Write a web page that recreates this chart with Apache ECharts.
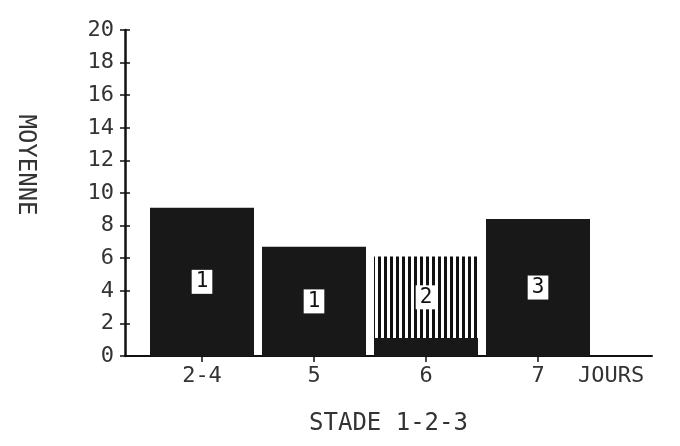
<!DOCTYPE html>
<html><head><meta charset="utf-8">
<script src="https://cdn.jsdelivr.net/npm/echarts@6/dist/echarts.min.js"></script>
<style>html,body{margin:0;padding:0;background:#fff}#c{width:680px;height:446px}</style>
</head><body><div id="c"></div>
<script>
// ---- data ----
const categories = ['2-4', '5', '6', '7'];
const darkValues = [9.1, 6.7, 1.1, 8.4];     // solid (dark) part of each bar
const stripedValues = [0, 0, 5.0, 0];        // vertically striped part (stacked on top)
const stageLabels = ['1', '1', '2', '3'];    // number printed inside each bar
const yMin = 0, yMax = 20, yStep = 2;
const xName = 'STADE 1-2-3';
const xUnit = 'JOURS';
const yName = 'MOYENNE';

const FONT = 'DejaVu Sans Mono';
const TXT = '#333';

// stripe pattern for the striped bar
const pc = document.createElement('canvas');
pc.width = 6; pc.height = 6;
const pctx = pc.getContext('2d');
pctx.fillStyle = '#fff'; pctx.fillRect(0, 0, 6, 6);
pctx.fillStyle = '#111'; pctx.fillRect(0, 0, 3, 6);

const labelStyle = {
  position: 'inside',
  formatter: p => stageLabels[p.dataIndex],
  color: '#111', fontFamily: FONT, fontSize: 21,
  backgroundColor: '#fff', padding: [2, 4, 1, 4]
};

const chart = echarts.init(document.getElementById('c'));
chart.setOption({
  backgroundColor: '#fff',
  animation: false,
  grid: [
    { left: 146, width: 448, top: 30, height: 326 },
    { left: 125, right: 28, top: 30, height: 326 }
  ],
  xAxis: [
    {
      type: 'category', gridIndex: 0, data: categories,
      axisLine: { show: false },
      axisTick: { show: true, alignWithLabel: true, length: 6, lineStyle: { color: '#111', width: 1.5 } },
      axisLabel: { color: TXT, fontFamily: FONT, fontSize: 22, margin: 9 },
      name: xUnit, nameLocation: 'end', nameGap: -16,
      nameTextStyle: { color: TXT, fontFamily: FONT, fontSize: 22, align: 'left', verticalAlign: 'top', padding: [9, 0, 0, 0] }
    },
    {
      type: 'value', gridIndex: 1, min: 0, max: 1,
      axisLine: { show: true, lineStyle: { color: '#111', width: 2 } },
      axisTick: { show: false }, axisLabel: { show: false }, splitLine: { show: false },
      name: xName, nameLocation: 'middle', nameGap: 56,
      nameTextStyle: { color: TXT, fontFamily: FONT, fontSize: 24 }
    }
  ],
  yAxis: [
    { type: 'value', gridIndex: 0, min: yMin, max: yMax, interval: yStep, show: false },
    {
      type: 'value', gridIndex: 1, position: 'left', min: yMin, max: yMax, interval: yStep,
      axisLine: { show: true, lineStyle: { color: '#111', width: 2.5 } },
      axisTick: { show: true, length: 5, lineStyle: { color: '#111', width: 1.5 } },
      axisLabel: { color: TXT, fontFamily: FONT, fontSize: 22, margin: 11 },
      splitLine: { show: false },
      name: yName, nameLocation: 'middle', nameRotate: -90, nameGap: 88,
      nameTextStyle: { color: TXT, fontFamily: FONT, fontSize: 24, padding: [0, 56, 0, 0] }
    },
    {
      type: 'value', gridIndex: 1, position: 'left', offset: 0, min: yMin, max: yMax, interval: yStep,
      axisLine: { show: false },
      axisTick: { show: true, inside: true, length: 5, lineStyle: { color: '#111', width: 1.5 } },
      axisLabel: { show: false }, splitLine: { show: false }
    }
  ],
  series: [
    {
      type: 'bar', xAxisIndex: 0, yAxisIndex: 0, stack: 'b', barWidth: 104,
      itemStyle: { color: '#181818' },
      data: darkValues.map((v, i) => ({ value: v, label: Object.assign({ show: stripedValues[i] === 0 }, labelStyle) }))
    },
    {
      type: 'bar', xAxisIndex: 0, yAxisIndex: 0, stack: 'b', barWidth: 104,
      itemStyle: { color: { image: pc, repeat: 'repeat' } },
      data: stripedValues.map((v, i) => ({ value: v, label: Object.assign({ show: v > 0 }, labelStyle) }))
    }
  ]
});
</script></body></html>
